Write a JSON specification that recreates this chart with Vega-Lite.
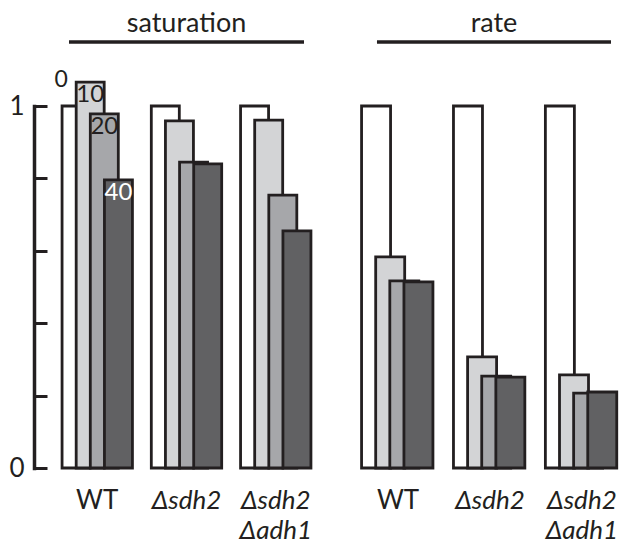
{
  "$schema": "https://vega.github.io/schema/vega-lite/v6.json",
  "padding": {"left": 8, "top": 10, "right": 0, "bottom": 0},
  "bounds": "flush",
  "spacing": 65,
  "config": {"view": {"stroke": null}, "font": "Lato", "axis": {"grid": false}},
  "datasets": {
    "bars": [
      {"panel": "saturation", "group": "WT", "conc": "0", "value": 1.0},
      {"panel": "saturation", "group": "WT", "conc": "10", "value": 1.066},
      {"panel": "saturation", "group": "WT", "conc": "20", "value": 0.978},
      {"panel": "saturation", "group": "WT", "conc": "40", "value": 0.796},
      {"panel": "saturation", "group": "Δsdh2", "conc": "0", "value": 1.0},
      {"panel": "saturation", "group": "Δsdh2", "conc": "10", "value": 0.959},
      {"panel": "saturation", "group": "Δsdh2", "conc": "20", "value": 0.845},
      {"panel": "saturation", "group": "Δsdh2", "conc": "40", "value": 0.84},
      {"panel": "saturation", "group": "Δsdh2|Δadh1", "conc": "0", "value": 1.0},
      {"panel": "saturation", "group": "Δsdh2|Δadh1", "conc": "10", "value": 0.961},
      {"panel": "saturation", "group": "Δsdh2|Δadh1", "conc": "20", "value": 0.754},
      {"panel": "saturation", "group": "Δsdh2|Δadh1", "conc": "40", "value": 0.655},
      {"panel": "rate", "group": "WT", "conc": "0", "value": 1.0},
      {"panel": "rate", "group": "WT", "conc": "10", "value": 0.583},
      {"panel": "rate", "group": "WT", "conc": "20", "value": 0.517},
      {"panel": "rate", "group": "WT", "conc": "40", "value": 0.514},
      {"panel": "rate", "group": "Δsdh2", "conc": "0", "value": 1.0},
      {"panel": "rate", "group": "Δsdh2", "conc": "10", "value": 0.307},
      {"panel": "rate", "group": "Δsdh2", "conc": "20", "value": 0.254},
      {"panel": "rate", "group": "Δsdh2", "conc": "40", "value": 0.251},
      {"panel": "rate", "group": "Δsdh2|Δadh1", "conc": "0", "value": 1.0},
      {"panel": "rate", "group": "Δsdh2|Δadh1", "conc": "10", "value": 0.257},
      {"panel": "rate", "group": "Δsdh2|Δadh1", "conc": "20", "value": 0.207},
      {"panel": "rate", "group": "Δsdh2|Δadh1", "conc": "40", "value": 0.21}
    ],
    "lines": [{"from": "WT", "to": "Δsdh2|Δadh1"}]
  },
  "hconcat": [
    {
      "width": 235,
      "height": 362,
      "title": {"text": "saturation", "frame": "group", "anchor": "middle", "fontSize": 27, "fontWeight": "normal", "color": "#231f20", "baseline": "alphabetic", "offset": -19},
      "layer": [
        {
          "data": {"name": "bars"},
          "transform": [{"filter": "datum.panel == 'saturation'"}],
          "mark": {"type": "bar", "width": 28, "stroke": "#231f20", "strokeWidth": 2.8},
          "encoding": {
            "x": {"field": "group", "type": "nominal", "sort": null,
              "scale": {"domain": ["WT", "Δsdh2", "Δsdh2|Δadh1"], "paddingInner": 0.367, "paddingOuter": 0},
              "axis": {"title": null, "domain": false, "ticks": false, "labelAngle": 0, "labelFontSize": 26, "labelColor": "#231f20", "labelPadding": 19, "labelBaseline": "top", "labelLineHeight": 30, "labelExpr": "split(datum.label, '|')", "labelFontStyle": {"condition": {"test": "datum.value === 'WT'", "value": "normal"}, "value": "italic"}}},
            "xOffset": {"field": "conc", "type": "ordinal", "sort": ["0", "10", "20", "40"], "scale": {"paddingInner": 0, "paddingOuter": 0}},
            "y": {"field": "value", "type": "quantitative", "scale": {"domain": [0, 1], "nice": false},
              "axis": {"title": null, "values": [0, 0.2, 0.4, 0.6, 0.8, 1], "labelExpr": "datum.value == 0 ? '0' : datum.value == 1 ? '1' : ''", "offset": 35, "tickSize": -13, "tickWidth": 3, "tickColor": "#231f20", "domainColor": "#231f20", "domainWidth": 3.5, "domainCap": "square", "labelFontSize": 26, "labelColor": "#231f20", "labelPadding": 23, "labelFlush": false}},
            "fill": {"field": "conc", "type": "ordinal", "scale": {"domain": ["0", "10", "20", "40"], "range": ["#ffffff", "#d3d4d6", "#a6a7aa", "#616163"]}, "legend": null}
          }
        },
        {
          "data": {"name": "lines"},
          "mark": {"type": "rule", "stroke": "#231f20", "strokeWidth": 3.5},
          "encoding": {
            "x": {"field": "from", "type": "nominal", "bandPosition": 0},
            "x2": {"field": "to", "bandPosition": 1},
            "y": {"datum": 1.177}
          }
        },
        {
          "data": {"name": "bars"},
          "transform": [{"filter": "datum.panel == 'saturation' && datum.group == 'WT' && datum.conc == '0'"}],
          "mark": {"type": "text", "fontSize": 23, "baseline": "alphabetic", "dx": -15, "dy": -19, "color": "#231f20"},
          "encoding": {
            "x": {"field": "group", "type": "nominal", "bandPosition": 0},
            "xOffset": {"field": "conc", "type": "ordinal"},
            "y": {"field": "value", "type": "quantitative"},
            "text": {"field": "conc"}
          }
        },
        {
          "data": {"name": "bars"},
          "transform": [{"filter": "datum.panel == 'saturation' && datum.group == 'WT' && datum.conc != '0'"}],
          "mark": {"type": "text", "fontSize": 24, "baseline": "top", "dx": 0, "dy": 1},
          "encoding": {
            "x": {"field": "group", "type": "nominal", "bandPosition": 0},
            "xOffset": {"field": "conc", "type": "ordinal"},
            "y": {"field": "value", "type": "quantitative"},
            "text": {"field": "conc"},
            "color": {"condition": {"test": "datum.conc == '40'", "value": "#ffffff"}, "value": "#231f20"}
          }
        }
      ]
    },
    {
      "width": 242,
      "height": 362,
      "title": {"text": "rate", "frame": "group", "anchor": "middle", "fontSize": 27, "fontWeight": "normal", "color": "#231f20", "baseline": "alphabetic", "offset": -19, "dx": 4},
      "layer": [
        {
          "data": {"name": "bars"},
          "transform": [{"filter": "datum.panel == 'rate'"}],
          "mark": {"type": "bar", "width": 29, "stroke": "#231f20", "strokeWidth": 2.8},
          "encoding": {
            "x": {"field": "group", "type": "nominal", "sort": null,
              "scale": {"domain": ["WT", "Δsdh2", "Δsdh2|Δadh1"], "paddingInner": 0.367, "paddingOuter": 0},
              "axis": {"title": null, "domain": false, "ticks": false, "labelAngle": 0, "labelFontSize": 26, "labelColor": "#231f20", "labelPadding": 19, "labelBaseline": "top", "labelLineHeight": 30, "labelExpr": "split(datum.label, '|')", "labelFontStyle": {"condition": {"test": "datum.value === 'WT'", "value": "normal"}, "value": "italic"}}},
            "xOffset": {"field": "conc", "type": "ordinal", "sort": ["0", "10", "20", "40"], "scale": {"paddingInner": 0, "paddingOuter": 0}},
            "y": {"field": "value", "type": "quantitative", "scale": {"domain": [0, 1], "nice": false}, "axis": null},
            "fill": {"field": "conc", "type": "ordinal", "scale": {"domain": ["0", "10", "20", "40"], "range": ["#ffffff", "#d3d4d6", "#a6a7aa", "#616163"]}, "legend": null}
          }
        },
        {
          "data": {"name": "lines"},
          "mark": {"type": "rule", "stroke": "#231f20", "strokeWidth": 3.5},
          "encoding": {
            "x": {"field": "from", "type": "nominal", "bandPosition": 0.137},
            "x2": {"field": "to", "bandPosition": 1},
            "y": {"datum": 1.177}
          }
        }
      ]
    }
  ]
}
